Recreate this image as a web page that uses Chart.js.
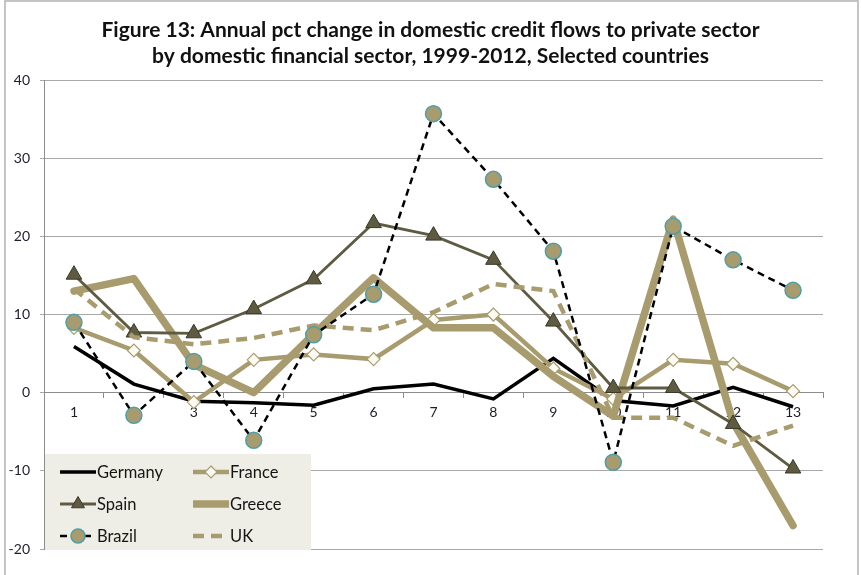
<!DOCTYPE html>
<html>
<head>
<meta charset="utf-8">
<script src="https://cdn.jsdelivr.net/npm/chart.js@4.4.1/dist/chart.umd.min.js"></script>
<style>
  html, body { margin: 0; padding: 0; background: #ffffff; }
  #wrap { width: 861px; height: 575px; }
</style>
</head>
<body>
<div id="wrap"><canvas id="c" width="861" height="575"></canvas></div>
<script>
// Year index 1..13 (1999-2012 changes)
const categories = ['1', '2', '3', '4', '5', '6', '7', '8', '9', '10', '11', '12', '13'];

// Annual % change in domestic credit to the private sector
const germany = [5.9, 1.1, -1.1, -1.3, -1.6, 0.5, 1.1, -0.8, 4.4, -1.0, -1.7, 0.7, -1.8];
const france  = [8.3, 5.4, -1.2, 4.2, 4.9, 4.3, 9.3, 10.0, 3.1, -0.8, 4.2, 3.7, 0.2];
const spain   = [15.1, 7.7, 7.6, 10.7, 14.5, 21.7, 20.1, 17.0, 9.1, 0.6, 0.6, -4.0, -9.7];
const greece  = [13.0, 14.6, 3.6, 0.0, 7.5, 14.7, 8.3, 8.3, 2.1, -3.0, 22.2, -3.8, -17.0];
const brazil  = [9.0, -2.9, 4.0, -6.1, 7.4, 12.6, 35.7, 27.3, 18.1, -8.9, 21.3, 17.0, 13.1];
const uk      = [13.3, 7.1, 6.2, 7.0, 8.6, 8.0, 10.3, 13.9, 13.0, -3.2, -3.2, -6.8, -4.2];

// Value axis ticks
const yTicks = [-20, -10, 0, 10, 20, 30, 40];

const titleLines = [
  'Figure 13: Annual pct change in domestic credit flows to private sector',
  'by domestic financial sector, 1999-2012, Selected countries'
];

const TAN = '#a89c6e';

// Marker painter shared by the legend
function drawMarker(ctx, style, x, y, r, fill, stroke, bw) {
  ctx.save();
  ctx.fillStyle = fill;
  ctx.strokeStyle = stroke;
  ctx.lineWidth = bw;
  ctx.setLineDash([]);
  ctx.beginPath();
  if (style === 'circle') {
    ctx.arc(x, y, r, 0, Math.PI * 2);
  } else if (style === 'triangle') {
    const half = r * Math.sqrt(3) / 2;
    ctx.moveTo(x, y - r);
    ctx.lineTo(x + half, y + r / 2);
    ctx.lineTo(x - half, y + r / 2);
    ctx.closePath();
  } else if (style === 'rectRot') {
    ctx.moveTo(x, y - r);
    ctx.lineTo(x + r, y);
    ctx.lineTo(x, y + r);
    ctx.lineTo(x - r, y);
    ctx.closePath();
  }
  ctx.fill();
  if (bw > 0) ctx.stroke();
  ctx.restore();
}

// White page with a light frame round the whole figure
const framePlugin = {
  id: 'frame',
  beforeDraw(chart) {
    const ctx = chart.ctx;
    ctx.save();
    ctx.fillStyle = '#ffffff';
    ctx.fillRect(0, 0, chart.width, chart.height);
    ctx.strokeStyle = '#c4c4c4';
    ctx.lineWidth = 2;
    ctx.strokeRect(5, 1, chart.width - 8, chart.height + 10);
    ctx.restore();
  }
};

// Boxed legend in the lower-left corner of the plot
const legendBoxPlugin = {
  id: 'legendBox',
  afterDatasetsDraw(chart) {
    const ctx = chart.ctx;
    const area = chart.chartArea;
    const boxX = area.left + 1, boxW = 266, boxH = 96;
    const boxY = area.bottom + 1 - boxH;
    ctx.save();
    ctx.fillStyle = '#efeee6';
    ctx.fillRect(boxX, boxY, boxW, boxH);
    const cols = [boxX + 15, boxX + 148];
    const rows = [boxY + 18, boxY + 50, boxY + 82];
    chart.data.datasets.forEach((ds, i) => {
      const x = cols[i % 2];
      const y = rows[Math.floor(i / 2)];
      ctx.strokeStyle = ds.borderColor;
      ctx.lineWidth = ds.borderWidth;
      ctx.setLineDash(ds.borderDash || []);
      ctx.lineCap = 'butt';
      ctx.beginPath();
      ctx.moveTo(x, y);
      ctx.lineTo(x + 36, y);
      ctx.stroke();
      ctx.setLineDash([]);
      if (ds.pointRadius > 0) {
        drawMarker(ctx, ds.pointStyle, x + 18, y, ds.legendRadius,
          ds.pointBackgroundColor, ds.pointBorderColor, ds.pointBorderWidth);
      }
      ctx.fillStyle = '#151515';
      ctx.font = '16.5px Lato, "Open Sans", sans-serif';
      ctx.textBaseline = 'middle';
      ctx.textAlign = 'left';
      ctx.fillText(ds.label, x + 37, y + 1);
    });
    ctx.restore();
  }
};

new Chart(document.getElementById('c'), {
  type: 'line',
  data: {
    labels: categories,
    datasets: [
      {
        label: 'Germany', data: germany, order: 5,
        borderColor: '#000000', borderWidth: 3.5, pointRadius: 0
      },
      {
        label: 'France', data: france, order: 4,
        borderColor: TAN, borderWidth: 4.5,
        pointStyle: 'rectRot', pointRadius: 6.5, legendRadius: 6,
        pointBackgroundColor: '#fbfbf3', pointBorderColor: TAN, pointBorderWidth: 1.2
      },
      {
        label: 'Spain', data: spain, order: 2,
        borderColor: '#5f5b42', borderWidth: 2.8,
        pointStyle: 'triangle', pointRadius: 9, legendRadius: 7.5,
        pointBackgroundColor: '#5f5b42', pointBorderColor: '#3a3827', pointBorderWidth: 1
      },
      {
        label: 'Greece', data: greece, order: 3,
        borderColor: TAN, borderWidth: 7.5, pointRadius: 0,
        borderJoinStyle: 'round', borderCapStyle: 'round'
      },
      {
        label: 'Brazil', data: brazil, order: 0,
        borderColor: '#000000', borderWidth: 2.5, borderDash: [7, 5],
        pointStyle: 'circle', pointRadius: 8, legendRadius: 7,
        pointBackgroundColor: '#a89c6e', pointBorderColor: '#4f9fa8', pointBorderWidth: 1.5
      },
      {
        label: 'UK', data: uk, order: 1,
        borderColor: TAN, borderWidth: 4.5, borderDash: [11, 7], pointRadius: 0
      }
    ]
  },
  options: {
    responsive: false,
    animation: false,
    devicePixelRatio: 1,
    events: [],
    layout: { padding: { left: 0, right: 0, top: 0, bottom: 26 } },
    elements: { line: { tension: 0, borderCapStyle: 'butt', borderJoinStyle: 'miter' } },
    plugins: {
      legend: { display: false },
      tooltip: { enabled: false },
      title: {
        display: true,
        text: titleLines,
        color: '#111111',
        font: { family: 'Lato, "Open Sans", sans-serif', size: 21, weight: 'bold', lineHeight: 1.24 },
        padding: { top: 17, bottom: 11 }
      }
    },
    scales: {
      x: {
        type: 'category',
        position: { y: 0 },
        offset: true,
        grid: { offset: true, drawOnChartArea: false, drawTicks: true, tickLength: 5, color: '#8c8c8c' },
        border: { display: true, color: '#8c8c8c', width: 1 },
        ticks: { color: '#1e1e2a', font: { family: 'Lato, sans-serif', size: 14 }, padding: 6, maxRotation: 0 }
      },
      y: {
        min: -20, max: 40,
        afterBuildTicks(scale) { scale.ticks = yTicks.map(v => ({ value: v })); },
        afterFit(scale) { scale.width = 44; },
        grid: { color: '#a8a8a8', lineWidth: 1, tickLength: 4, drawTicks: true },
        border: { display: true, color: '#8c8c8c', width: 1 },
        ticks: { color: '#1e1e2a', font: { family: 'Lato, sans-serif', size: 14 }, padding: 10 }
      },
      // empty right-hand margin so the plot stops short of the frame
      margin: {
        type: 'linear',
        position: 'right',
        display: true,
        grid: { display: false, drawTicks: false },
        border: { display: false },
        ticks: { display: false },
        afterFit(scale) { scale.width = 38; }
      }
    }
  },
  plugins: [framePlugin, legendBoxPlugin]
});
</script>
</body>
</html>
